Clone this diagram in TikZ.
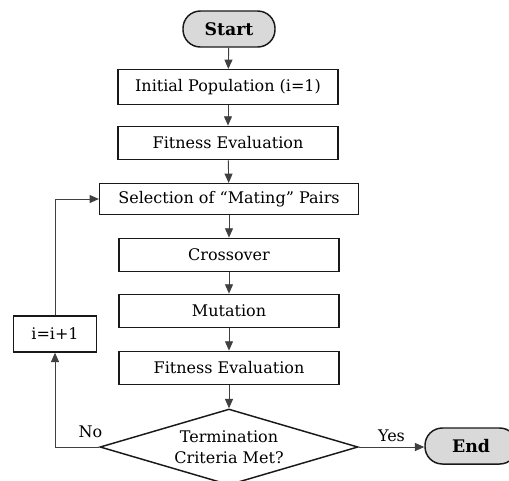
\documentclass[tikz,border=0pt]{standalone}
\usepackage{fontspec}
\setmainfont{DejaVu Serif}
\usetikzlibrary{shapes.geometric,arrows.meta}

\begin{document}
\begin{tikzpicture}[
    x=0.75pt, y=-0.75pt,
    gaFlowBox/.style={draw=black!90, line width=1.1pt, minimum width=165pt,
        minimum height=25pt, inner sep=2pt, font=\fontsize{12}{14}\selectfont},
    gaFlowTerm/.style={draw=black!90, line width=1.1pt, fill=black!15,
        rounded corners=13pt, minimum width=69pt, minimum height=27pt,
        font=\fontsize{13}{15}\selectfont\bfseries},
    gaFlowTest/.style={draw=black!90, line width=1.1pt, diamond, aspect=3.4,
        inner sep=0pt, minimum width=193.5pt, minimum height=57pt,
        align=center, font=\fontsize{12}{15.5}\selectfont},
    gaFlowLink/.style={draw=black!75, line width=0.7pt},
    >={Triangle[width=6pt,length=7pt]}
]
    \useasboundingbox (0,0) rectangle (509,480);

    % start and main steps
    \node[gaFlowTerm] (start) at (229,29) {Start};
    \node[gaFlowBox, minimum height=26pt] (init) at (228,87) {Initial Population (i=1)};
    \node[gaFlowBox] (fit1) at (228,143) {Fitness Evaluation};
    \node[gaFlowBox, minimum width=194pt, minimum height=23pt] (sel) at (229,199)
        {Selection of ``Mating'' Pairs};
    \node[gaFlowBox] (cross) at (229,255) {Crossover};
    \node[gaFlowBox] (mut) at (229,311) {Mutation};
    \node[gaFlowBox] (fit2) at (229,368) {Fitness Evaluation};

    % termination test
    \node[gaFlowTest] (test) at (229,447) {Termination\\Criteria Met?};
    \node[gaFlowTerm] (end) at (471,446) {End};

    % counter
    \node[gaFlowBox, minimum width=62pt, minimum height=27pt] (incr) at (55,334) {i=i+1};

    % arrows down the main line
    \draw[gaFlowLink, ->] (start) -- (init);
    \draw[gaFlowLink, ->] (init) -- (fit1);
    \draw[gaFlowLink, ->] (fit1) -- (sel);
    \draw[gaFlowLink, ->] (sel) -- (cross);
    \draw[gaFlowLink, ->] (cross) -- (mut);
    \draw[gaFlowLink, ->] (mut) -- (fit2);
    \draw[gaFlowLink, ->] (fit2) -- (test);

    % yes / no branches
    \draw[gaFlowLink, ->] (test.east) -- (end.west |- test.east)
        node[midway, above, font=\fontsize{12}{14}\selectfont] {Yes};
    \draw[gaFlowLink, ->] (test.west) -| (incr.south)
        node[pos=0.1, above=3pt, font=\fontsize{12}{14}\selectfont] {No};
    \draw[gaFlowLink, ->] (incr.north) |- (sel.west);
\end{tikzpicture}
\end{document}
